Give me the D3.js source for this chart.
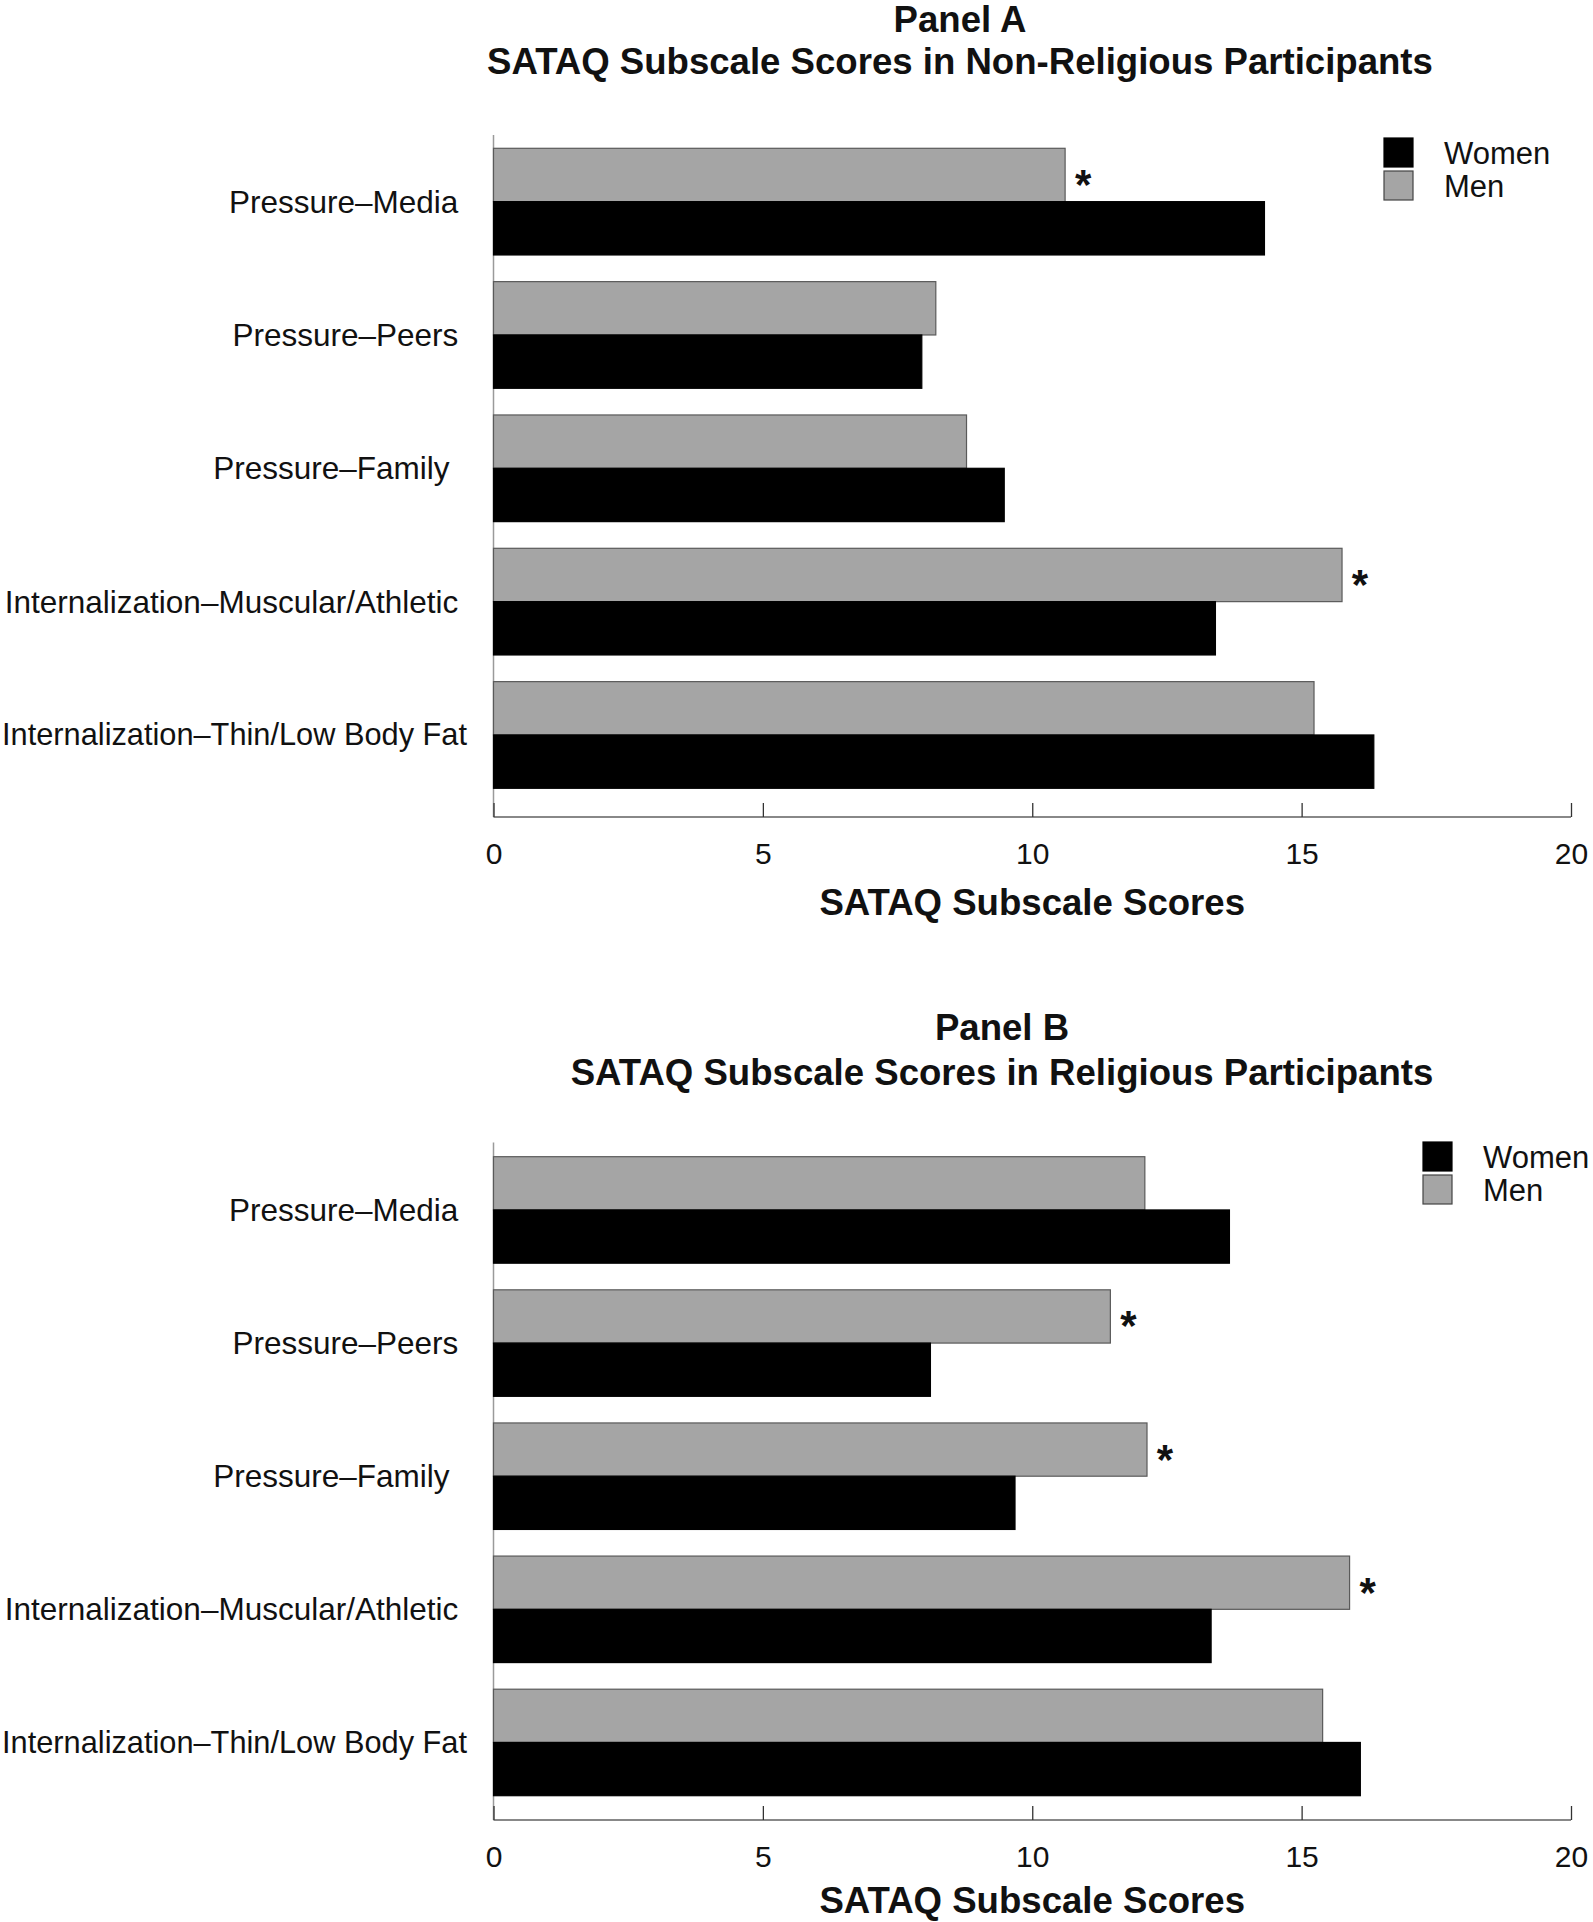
<!DOCTYPE html>
<html>
<head>
<meta charset="utf-8">
<script src="https://cdnjs.cloudflare.com/ajax/libs/d3/7.8.5/d3.min.js"></script>
<style>
  html, body { margin: 0; padding: 0; background: #fff; }
  svg { display: block; font-family: "Liberation Sans", Arial, sans-serif; }
  .cat { white-space: pre; }
</style>
</head>
<body>
<div id="chart"></div>
<script>
// ---- data ----
const categories = [
  "Pressure\u2013Media ",
  "Pressure\u2013Peers ",
  "Pressure\u2013Family  ",
  "Internalization\u2013Muscular/Athletic ",
  "Internalization\u2013Thin/Low Body Fat"
];
const series = ["Women", "Men"];
const womenNonReligious = [14.31, 7.95, 9.48, 13.40, 16.34];
const menNonReligious   = [10.61, 8.21, 8.78, 15.75, 15.23];
const sigNonReligious   = [true, false, false, true, false];
const womenReligious = [13.66, 8.11, 9.68, 13.32, 16.09];
const menReligious   = [12.09, 11.45, 12.13, 15.89, 15.39];
const sigReligious   = [false, true, true, true, false];
const xTicks = [0, 5, 10, 15, 20];
const panelTitles = ["Panel A", "Panel B"];
const panelSubtitles = [
  "SATAQ Subscale Scores in Non-Religious Participants",
  "SATAQ Subscale Scores in Religious Participants"
];
const xAxisTitle = "SATAQ Subscale Scores";

// ---- layout ----
const W = 1593, H = 1922;
const colors = { Women: "#000000", Men: "#a5a5a5" };
const panels = [
  { women: womenNonReligious, men: menNonReligious, sig: sigNonReligious,
    title: panelTitles[0], sub: panelSubtitles[0], titleX: 960, titleY: 19, subY: 61,
    axisTop: 135, barTop: 148.3, barBottom: 788.3, axisY: 817, titleOff: 85, legX: 1384, legY: 138 },
  { women: womenReligious, men: menReligious, sig: sigReligious,
    title: panelTitles[1], sub: panelSubtitles[1], titleX: 1002, titleY: 1027, subY: 1072,
    axisTop: 1142.5, barTop: 1156.7, barBottom: 1795.7, axisY: 1820, titleOff: 80, legX: 1423, legY: 1142 }
];
const xLeft = 493.5, xRight = 1571;

const svg = d3.select("#chart").append("svg").attr("width", W).attr("height", H);

panels.forEach(p => {
  const g = svg.append("g");
  const x = d3.scaleLinear().domain([0, 20]).range([xLeft, xRight]);
  const y = d3.scaleBand().domain(categories).range([p.barTop, p.barBottom]).paddingInner(0.2).paddingOuter(0);
  const sub = d3.scaleBand().domain(["Men", "Women"]).range([0, y.bandwidth()]);

  // titles
  g.append("text").attr("x", p.titleX).attr("y", p.titleY).attr("text-anchor", "middle")
    .attr("dominant-baseline", "central").attr("font-weight", "bold").attr("font-size", 36.6)
    .attr("fill", "#111").text(p.title);
  g.append("text").attr("x", p.titleX).attr("y", p.subY).attr("text-anchor", "middle")
    .attr("dominant-baseline", "central").attr("font-weight", "bold").attr("font-size", 36.6)
    .attr("fill", "#111").text(p.sub);

  // y axis line
  g.append("line").attr("x1", xLeft).attr("x2", xLeft).attr("y1", p.axisTop).attr("y2", p.axisY)
    .attr("stroke", "#9a9a9a").attr("stroke-width", 1.5);

  // bars
  const rows = categories.map((c, i) => ({ c, i, Women: p.women[i], Men: p.men[i], sig: p.sig[i] }));
  ["Men", "Women"].forEach(s => {
    g.selectAll(null).data(rows).enter().append("rect")
      .attr("x", x(0))
      .attr("y", d => y(d.c) + sub(s))
      .attr("width", d => x(d[s]) - x(0))
      .attr("height", sub.bandwidth())
      .attr("fill", colors[s])
      .attr("stroke", s === "Men" ? "#5a5a5a" : "#000")
      .attr("stroke-width", 1.2);
  });

  // significance asterisks
  g.selectAll(null).data(rows.filter(d => d.sig)).enter().append("text")
    .attr("x", d => x(d.Men) + 18)
    .attr("y", d => y(d.c) + sub("Men") + sub.bandwidth() / 2 + 24)
    .attr("text-anchor", "middle")
    .attr("font-size", 42).attr("font-weight", "bold").attr("fill", "#111")
    .text("*");

  // category labels (shrink only if a label would run off the left edge)
  g.selectAll(null).data(categories).enter().append("text")
    .attr("class", "cat")
    .attr("x", 467)
    .attr("y", d => y(d) + y.bandwidth() / 2)
    .attr("text-anchor", "end").attr("dominant-baseline", "central")
    .attr("font-size", 31.5).attr("fill", "#111")
    .text(d => d)
    .each(function() {
      const len = this.getComputedTextLength();
      if (len > 465) d3.select(this).attr("font-size", 31.5 * 465 / len);
    });

  // x axis
  const axis = d3.axisBottom(x).tickValues(xTicks).tickSize(-14).tickPadding(0).tickFormat(d3.format("d"));
  const ax = g.append("g").attr("transform", `translate(0,${p.axisY})`).call(axis);
  ax.select(".domain").attr("stroke", "#888").attr("stroke-width", 1.8).attr("d", `M${xLeft},0H${xRight}`);
  ax.selectAll(".tick line").attr("stroke", "#333").attr("stroke-width", 1.3);
  ax.selectAll(".tick text").attr("y", 36).attr("dy", null).attr("dominant-baseline", "central")
    .attr("font-size", 30).attr("fill", "#111").attr("font-family", "Liberation Sans, Arial, sans-serif");

  g.append("text").attr("x", (xLeft + xRight) / 2).attr("y", p.axisY + p.titleOff)
    .attr("text-anchor", "middle").attr("dominant-baseline", "central")
    .attr("font-weight", "bold").attr("font-size", 36.6).attr("fill", "#111").text(xAxisTitle);

  // legend
  series.forEach((s, i) => {
    g.append("rect").attr("x", p.legX).attr("y", p.legY + i * 33).attr("width", 29).attr("height", 29)
      .attr("fill", colors[s]).attr("stroke", s === "Men" ? "#444" : "#000").attr("stroke-width", 1.2);
    g.append("text").attr("x", p.legX + 60).attr("y", p.legY + i * 33 + 15)
      .attr("dominant-baseline", "central").attr("font-size", 31).attr("fill", "#111").text(s);
  });
});
</script>
</body>
</html>
